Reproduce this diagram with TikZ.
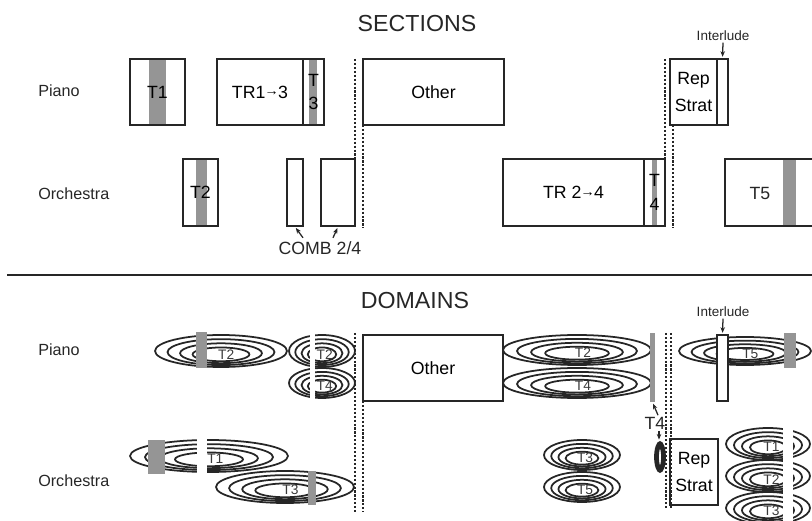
\documentclass[tikz,border=0pt]{standalone}
\usepackage{fontspec}
\setmainfont{Liberation Sans}
\setsansfont{Liberation Sans}
\usetikzlibrary{arrows.meta,calc}
\definecolor{ink}{HTML}{262626}
\definecolor{stripe}{HTML}{959595}
\definecolor{ringtext}{HTML}{3A3A3A}
\tikzset{
  font=\sffamily,
  >={Stealth[length=4pt,width=3.2pt]},
  part/.style={draw=ink, line width=1.1pt, inner sep=0pt, align=center,
    font=\sffamily\fontsize{12.6}{17}\selectfont},
  whitepart/.style={part, fill=white},
  theme/.style={fill=stripe, draw=none, inner sep=0pt},
  gap/.style={fill=white, draw=none},
  heading/.style={font=\sffamily\fontsize{16.5}{18}\selectfont, text=ink},
  player/.style={font=\sffamily\fontsize{11.5}{13}\selectfont, text=ink,
    anchor=west, inner sep=0pt},
  tag/.style={font=\sffamily\fontsize{12.6}{14}\selectfont, text=ink,
    inner sep=1pt},
  smalltag/.style={font=\sffamily\fontsize{9.6}{11}\selectfont, text=ink,
    inner sep=1pt},
  ring/.style={draw=ink, line width=1.25pt},
  ringlabel/.style={font=\sffamily\fontsize{9.8}{11}\selectfont,
    text=ringtext, inner sep=0pt},
  seam/.style={draw=ink, line width=1.3pt, dash pattern=on 1.5pt off 1.3pt},
  pointer/.style={draw=ink, line width=.9pt, ->, shorten >=1pt},
  rule/.style={draw=ink, line width=2pt}
}
% box from (x1,y1) to (x2,y2), in pixel units
\newcommand{\Block}[7][part]{%
  \node[#1, minimum width={(#5-#3)*0.25mm}, minimum height={(#6-#4)*0.25mm}]
    (#2) at ({(#3+#5)/2},{(#4+#6)/2}) {#7};
}
% nested rings round a theme label
\newcommand{\Rings}[6]{%
  \coordinate (#1) at (#2,#3);
  \foreach \k in {0,...,3}{
    \draw[ring] ($(#1)+(0,{.07*\k*#5})$)
      ellipse ({(1-.19*\k)*#4} and {(1-.19*\k)*#5});
  }
  \node[ringlabel] (#1t) at ($(#1)+({.08*#4},{.2*#5})$) {#6};
}
\newcommand{\Goes}{\kern-.5pt\raisebox{.25ex}{\scalebox{.8}{→}}\kern-.5pt}

\begin{document}
\begin{tikzpicture}[x=0.25mm,y=-0.25mm]
  \useasboundingbox (0,0) rectangle (812,521);
  \clip (0,0) rectangle (812,521);

  % ------------------------------------------------------------------
  % Sections
  \node[heading] (sections) at (417,24) {SECTIONS};
  \node[player] (pianoA) at (38,91) {Piano};
  \node[player] (orchA) at (38,194) {Orchestra};

  % themes
  \fill[stripe] (149,59) rectangle (166,125);
  \fill[stripe] (309,59) rectangle (317,125);
  \fill[stripe] (196,159) rectangle (207,226);
  \fill[stripe] (652,159) rectangle (657,226);
  \fill[stripe] (783,159) rectangle (796,226);

  \Block{tone}{130}{59}{185}{125}{T1}
  \Block{trA}{217}{59}{303}{125}{TR1\Goes3}
  \Block{tthree}{303}{59}{324}{125}{T\\3}
  \Block{otherA}{363}{59}{504}{125}{Other}
  \Block{repA}{670}{59}{717}{125}{Rep\\[2pt]Strat}
  \Block{interAbar}{717}{59}{728}{125}{}
  \node[smalltag] (interA) at (723,36) {Interlude};
  \draw[pointer] (interA.south) -- (interAbar.north);

  \Block{ttwo}{183}{159}{218}{226}{T2}
  \Block{comba}{287}{159}{303}{226}{}
  \Block{combb}{321}{159}{355}{226}{}
  \node[tag] (comb) at (320,248) {COMB 2/4};
  \draw[pointer] ($(comb.north)+(-17,-2)$) -- (comba.south);
  \draw[pointer] ($(comb.north)+(13,-2)$) -- (combb.south);
  \Block{trB}{503}{159}{644}{226}{TR 2\Goes4}
  \Block{tfour}{644}{159}{665}{226}{T\\4}
  \Block{tfivebox}{725}{159}{840}{226}{}
  \node[tag] (tfive) at (760,193) {T5};

  \draw[seam] (355,59) -- (355,228);
  \draw[seam] (363,125) -- (363,228);
  \draw[seam] (665,59) -- (665,228);
  \draw[seam] (673,125) -- (673,228);

  \draw[rule] (7,275) -- (812,275);

  % ------------------------------------------------------------------
  % Domains
  \node[heading] (domains) at (415,301) {DOMAINS};
  \node[player] (pianoB) at (38,350) {Piano};
  \node[player] (orchB) at (38,481) {Orchestra};

  \Rings{ptwoA}{221}{351}{66}{16}{T2}
  \Rings{ptwoB}{322}{351}{33}{16}{T2}
  \Rings{pfourB}{322}{383}{33}{15}{T4}
  \Rings{ptwoC}{577}{350}{74}{15}{T2}
  \Rings{pfourC}{577}{383}{74}{15}{T4}
  \Rings{pfive}{745}{351}{66}{14}{T5}

  \Rings{ooneA}{209}{456}{79}{16}{T1}
  \Rings{othreeA}{285}{487}{69}{16}{T3}
  \Rings{othreeB}{582}{455}{38}{15}{T3}
  \Rings{ofiveB}{582}{487}{38}{15}{T5}
  \Rings{ooneC}{768}{444}{42}{16}{T1}
  \Rings{otwoC}{768}{476}{42}{16}{T2}
  \Rings{othreeC}{768}{508}{42}{16}{T3}

  \coordinate (ofour) at (660,457);
  \foreach \k in {0,...,3}{
    \draw[ring] (ofour) ellipse ({(1-.2*\k)*5} and {(1-.12*\k)*15});
  }
  \coordinate (ofourtop) at (659,441);

  % themes and cuts over the rings
  \fill[stripe] (196,332) rectangle (207,368);
  \fill[stripe] (148,440) rectangle (165,474);
  \fill[stripe] (308,471) rectangle (316,505);
  \fill[stripe] (784,333) rectangle (796,368);
  \fill[gap] (310,331) rectangle (315,401);
  \fill[gap] (197,436) rectangle (207,476);
  \fill[gap] (783,424) rectangle (793,521);
  \Block[theme]{tfourbar}{650}{333}{655}{402}{}

  \node[tag] (tfourlab) at (655,423) {T4};
  \draw[pointer] ($(tfourlab.north)+(3,0)$) -- (tfourbar.south);
  \draw[pointer] (tfourlab.south -| ofourtop) -- (ofourtop);

  \Block{otherB}{363}{335}{503}{401}{Other}
  \Block[whitepart]{interBbar}{717}{335}{728}{401}{}
  \node[smalltag] (interB) at (723,312) {Interlude};
  \draw[pointer] (interB.south) -- (interBbar.north);
  \Block{repB}{670}{439}{718}{505}{Rep\\[2pt]Strat}

  \draw[seam] (355,333) -- (355,512);
  \draw[seam] (363,401) -- (363,512);
  \draw[seam] (666,333) -- (666,510);
  \draw[seam] (671,333) -- (671,510);
\end{tikzpicture}
\end{document}
